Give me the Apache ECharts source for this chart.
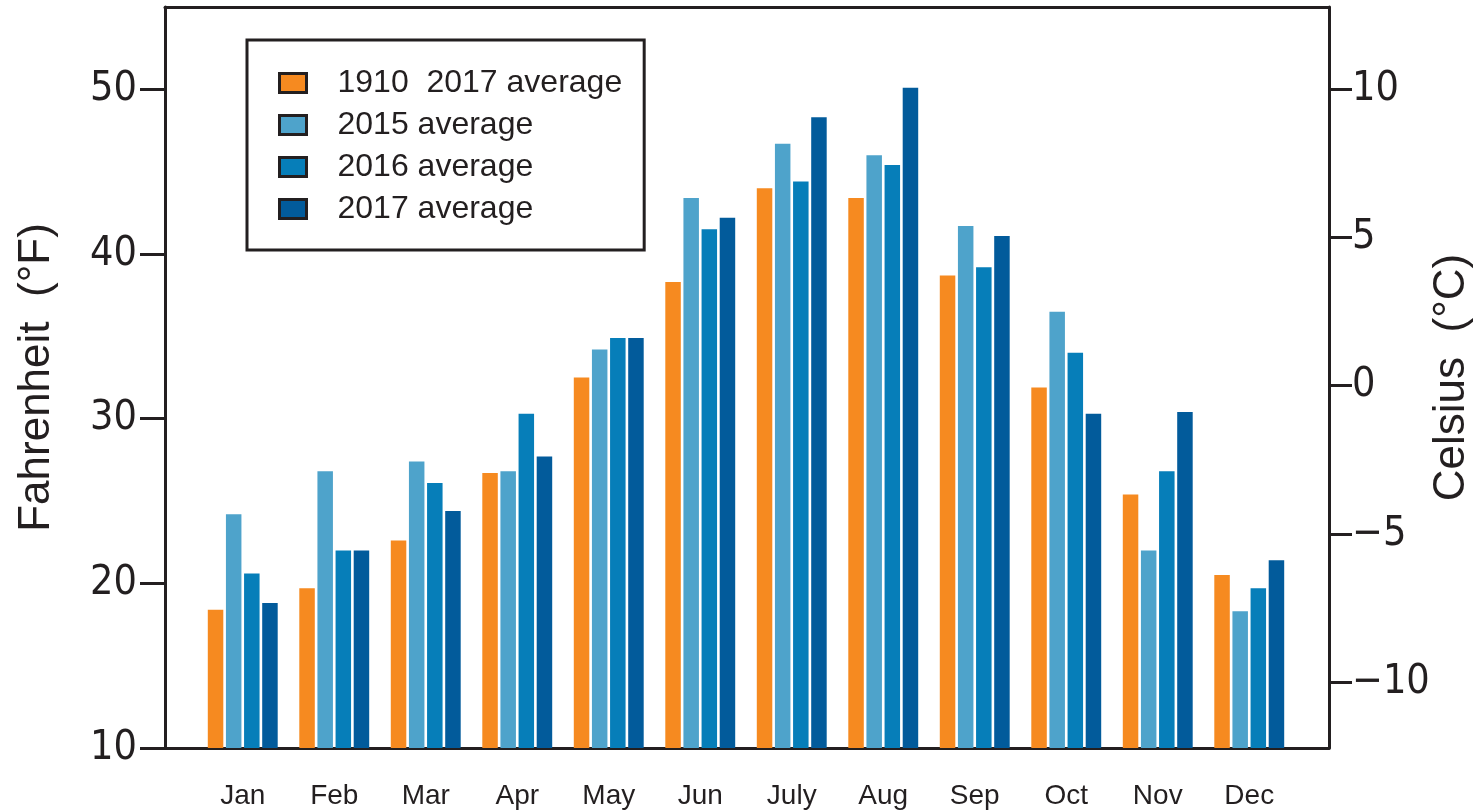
<!DOCTYPE html>
<html lang="en">
<head>
    <meta charset="UTF-8">
    <title>index</title>
    <script src="https://cdn.jsdelivr.net/npm/echarts@6/dist/echarts.min.js"></script>
    <style>
        html, body { margin: 0; padding: 0; background: #fff; }
        #chart { width: 1477px; height: 810px; }
    </style>
</head>
<body>
<div id="chart"></div>
<script>
    // data
    var months = ['Jan', 'Feb', 'Mar', 'Apr', 'May', 'Jun', 'July', 'Aug', 'Sep', 'Oct', 'Nov', 'Dec'];
    var avgLongTerm = [18.4, 19.7, 22.6, 26.7, 32.5, 38.3, 44.0, 43.4, 38.7, 31.9, 25.4, 20.5];
    var avg2015 = [24.2, 26.8, 27.4, 26.8, 34.2, 43.4, 46.7, 46.0, 41.7, 36.5, 22.0, 18.3];
    var avg2016 = [20.6, 22.0, 26.1, 30.3, 34.9, 41.5, 44.4, 45.4, 39.2, 34.0, 26.8, 19.7];
    var avg2017 = [18.8, 22.0, 24.4, 27.7, 34.9, 42.2, 48.3, 50.1, 41.1, 30.3, 30.4, 21.4];
    var fTicks = [10, 20, 30, 40, 50];
    var cTicks = [-10, -5, 0, 5, 10];
    var seriesNames = ['1910  2017 average', '2015 average', '2016 average', '2017 average'];

    var fMin = 10, fMax = 55;
    var ink = '#231F20';
    var colors = ['#F68A20', '#4EA3CB', '#067EB9', '#025B9B'];

    var myChart = echarts.init(document.getElementById('chart'));

    var numFont = {
        fontFamily: '"Liberation Sans Narrow", "DejaVu Sans Condensed", sans-serif',
        fontSize: 41,
        color: ink
    };
    var frameLine = {show: true, onZero: false, lineStyle: {color: ink, width: 3}};

    var option = {
        animation: false,
        // grid 0 = frame with the axes, grid 1 = where the bars sit
        grid: [
            {left: 165, right: 148, top: 7, bottom: 62, outerBoundsMode: 'none'},
            {left: 197, right: 182, top: 7, bottom: 62, outerBoundsMode: 'none'}
        ],
        legend: {
            orient: 'vertical',
            left: 247,
            top: 40,
            padding: [27, 22, 25, 31],
            itemGap: 10,
            itemWidth: 27,
            itemHeight: 19,
            icon: 'rect',
            borderColor: ink,
            borderWidth: 3,
            itemStyle: {borderColor: ink, borderWidth: 3},
            textStyle: {
                fontFamily: '"Liberation Sans", sans-serif',
                fontSize: 32,
                lineHeight: 32,
                color: ink,
                padding: [0, 0, 0, 26]
            },
            data: seriesNames
        },
        xAxis: [
            {
                type: 'value', gridIndex: 0, min: 0, max: 1, position: 'bottom',
                axisLine: frameLine,
                axisTick: {show: false}, axisLabel: {show: false}, splitLine: {show: false}
            },
            {
                type: 'value', gridIndex: 0, min: 0, max: 1, position: 'top',
                axisLine: frameLine,
                axisTick: {show: false}, axisLabel: {show: false}, splitLine: {show: false}
            },
            {
                type: 'category', gridIndex: 1, data: months,
                axisLine: {show: false},
                axisTick: {show: false},
                axisLabel: {
                    margin: 34,
                    fontFamily: '"Liberation Sans", sans-serif',
                    fontSize: 28,
                    color: ink
                }
            }
        ],
        yAxis: [
            {
                type: 'value', gridIndex: 0, min: fMin, max: fMax, position: 'left',
                name: 'Fahrenheit  (°F)',
                nameLocation: 'middle',
                nameRotate: 90,
                nameGap: 106,
                nameTextStyle: {fontFamily: '"Liberation Sans", sans-serif', fontSize: 44, color: ink},
                axisLine: frameLine,
                axisTick: {show: true, length: 25, customValues: fTicks, lineStyle: {color: ink, width: 3}},
                axisLabel: Object.assign({margin: 28, customValues: fTicks}, numFont),
                splitLine: {show: false}
            },
            {
                type: 'value', gridIndex: 0,
                min: (fMin - 32) / 1.8, max: (fMax - 32) / 1.8,
                position: 'right',
                name: 'Celsius  (°C)',
                nameLocation: 'middle',
                nameRotate: 90,
                nameGap: 101,
                nameMoveOverlap: false,
                nameTextStyle: {fontFamily: '"Liberation Sans", sans-serif', fontSize: 44, color: ink},
                axisLine: frameLine,
                axisTick: {show: true, length: 23, customValues: cTicks, lineStyle: {color: ink, width: 3}},
                axisLabel: Object.assign({
                    margin: 23,
                    customValues: cTicks,
                    formatter: function (v) { return String(v).replace('-', '\u2212'); }
                }, numFont),
                splitLine: {show: false}
            },
            {
                type: 'value', gridIndex: 1, min: fMin, max: fMax, show: false
            }
        ],
        series: [avgLongTerm, avg2015, avg2016, avg2017].map(function (vals, i) {
            return {
                name: seriesNames[i],
                type: 'bar',
                xAxisIndex: 2,
                yAxisIndex: 2,
                barWidth: 15.5,
                barGap: '17%',
                itemStyle: {color: colors[i]},
                data: vals
            };
        })
    };

    myChart.setOption(option);
</script>
</body>
</html>
